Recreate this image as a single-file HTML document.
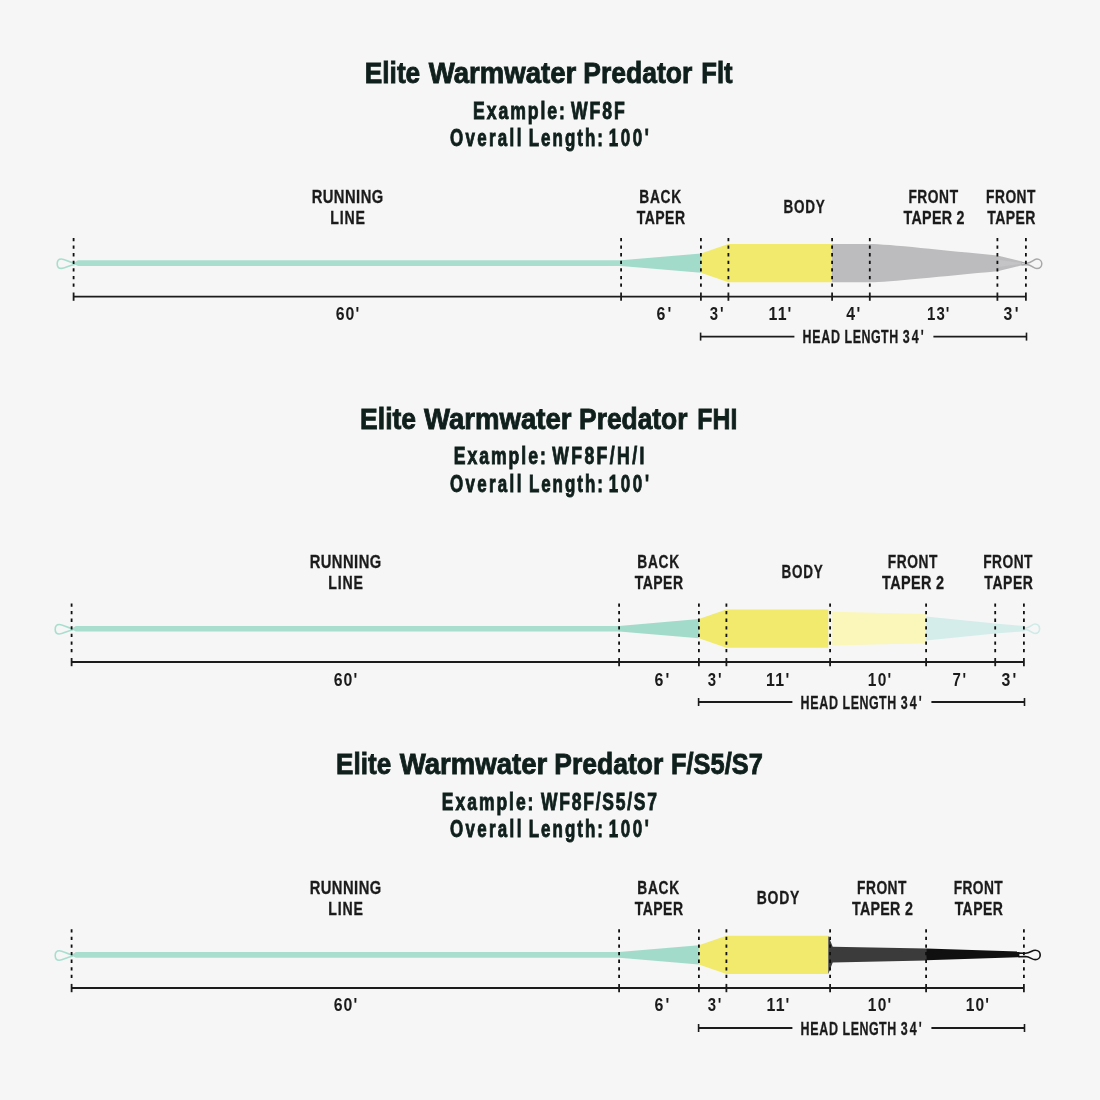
<!DOCTYPE html>
<html lang="en">
<head>
<meta charset="utf-8">
<title>Elite Warmwater Predator taper diagrams</title>
<style>
html,body{margin:0;padding:0;background:#f6f6f6;}
body{width:1100px;height:1100px;overflow:hidden;}
svg{display:block;}
svg text{font-family:"Liberation Sans",sans-serif;}
</style>
</head>
<body>
<svg width="1100" height="1100" viewBox="0 0 1100 1100">
<rect width="1100" height="1100" fill="#f6f6f6"/>
<text transform="translate(0 83.2) scale(0.878 1)" font-size="29.0" font-weight="bold" fill="#0f1f1c" stroke="#0f1f1c" stroke-width="0.85"><tspan x="415.53" textLength="63.08" lengthAdjust="spacingAndGlyphs">Elite</tspan> <tspan x="488.37" textLength="167.91" lengthAdjust="spacingAndGlyphs">Warmwater</tspan> <tspan x="664.39" textLength="123.99" lengthAdjust="spacingAndGlyphs">Predator</tspan> <tspan x="798.77" textLength="35.60" lengthAdjust="spacingAndGlyphs">Flt</tspan></text>
<text transform="translate(0 118.5) scale(0.747 1)" font-size="23.6" font-weight="bold" fill="#0f1f1c" stroke="#0f1f1c" stroke-width="0.9"><tspan x="633.22" textLength="122.93" lengthAdjust="spacing">Example:</tspan> <tspan x="764.41" textLength="71.97" lengthAdjust="spacing">WF8F</tspan></text>
<text transform="translate(0 146.0) scale(0.717 1)" font-size="23.6" font-weight="bold" fill="#0f1f1c" stroke="#0f1f1c" stroke-width="0.9"><tspan x="627.46" textLength="99.69" lengthAdjust="spacing">Overall</tspan> <tspan x="737.49" textLength="103.37" lengthAdjust="spacing">Length:</tspan> <tspan x="849.09" textLength="55.77" lengthAdjust="spacing">100'</tspan></text>
<path d="M73.1,263.4 L77.8,260.3 L622.1,260.3 L622.1,265.9 L77.8,265.9Z" fill="#a9decf"/>
<path d="M75.1,263.2 C68.6,262.1 65.1,259.0 61.3,259.0 C58.4,259.0 57.2,261.3 57.2,263.7 C57.2,266.1 58.4,268.4 61.3,268.4 C65.1,268.4 68.6,265.3 75.1,264.2" fill="none" stroke="#a9decf" stroke-width="1.6" stroke-linejoin="round"/>
<path d="M621.1,260.3 L700.9,253.5 L700.9,272.7 L621.1,265.9Z" fill="#a3dbcb"/>
<path d="M700.9,253.5 L728.4,244.0 L831.9,244.0 L831.9,282.2 L728.4,282.2 L700.9,272.7Z" fill="#f1ea6c"/>
<line x1="73.6" y1="296.6" x2="1025.9" y2="296.6" stroke="#1b1b1b" stroke-width="1.9"/>
<line x1="700.6" y1="332.6" x2="700.6" y2="340.6" stroke="#1b1b1b" stroke-width="1.6"/>
<line x1="700.6" y1="336.6" x2="794.4" y2="336.6" stroke="#1b1b1b" stroke-width="1.8"/>
<line x1="933.4" y1="336.6" x2="1026.5" y2="336.6" stroke="#1b1b1b" stroke-width="1.8"/>
<line x1="1026.5" y1="332.6" x2="1026.5" y2="340.6" stroke="#1b1b1b" stroke-width="1.6"/>
<text transform="translate(0 343.1) scale(0.663 1)" font-size="18.8" font-weight="bold" fill="#1b1b1b" stroke="#1b1b1b" stroke-width="0.3"><tspan x="1210.47" textLength="56.35" lengthAdjust="spacing">HEAD</tspan> <tspan x="1273.85" textLength="80.84" lengthAdjust="spacing">LENGTH</tspan> <tspan x="1361.62" textLength="31.47" lengthAdjust="spacing">34'</tspan></text>
<text transform="translate(311.69 203.0) scale(0.805 1)" font-size="18.3" font-weight="bold" fill="#1b1b1b" stroke="#1b1b1b" stroke-width="0.3" textLength="88.83" lengthAdjust="spacing">RUNNING</text>
<text transform="translate(330.36 224.0) scale(0.774 1)" font-size="18.3" font-weight="bold" fill="#1b1b1b" stroke="#1b1b1b" stroke-width="0.3" textLength="44.63" lengthAdjust="spacing">LINE</text>
<text transform="translate(639.36 203.0) scale(0.751 1)" font-size="18.3" font-weight="bold" fill="#1b1b1b" stroke="#1b1b1b" stroke-width="0.3" textLength="55.65" lengthAdjust="spacing">BACK</text>
<text transform="translate(636.73 224.0) scale(0.767 1)" font-size="18.3" font-weight="bold" fill="#1b1b1b" stroke="#1b1b1b" stroke-width="0.3" textLength="63.02" lengthAdjust="spacing">TAPER</text>
<text transform="translate(335.63 320.0) scale(0.871 1)" font-size="18.2" font-weight="bold" fill="#1b1b1b" textLength="27.05" lengthAdjust="spacing">60'</text>
<text transform="translate(656.56 320.0) scale(0.878 1)" font-size="18.2" font-weight="bold" fill="#1b1b1b" textLength="16.71" lengthAdjust="spacing">6'</text>
<text transform="translate(709.67 320.0) scale(0.822 1)" font-size="18.2" font-weight="bold" fill="#1b1b1b" textLength="16.90" lengthAdjust="spacing">3'</text>
<text transform="translate(768.60 320.0) scale(0.874 1)" font-size="18.2" font-weight="bold" fill="#1b1b1b" textLength="26.02" lengthAdjust="spacing">11'</text>
<path d="M831.9,244.0 L869.8,244.0 C888,244.0 945,250.7 997.5,255.4 L1022.2,261.4 L1022.2,265.2 L997.5,271.2 C945,275.9 888,282.2 869.8,282.2 L831.9,282.2Z" fill="#bcbcbe"/>
<path d="M998.5,259.7 L1021,262.9 L1021,263.7 L998.5,266.9Z" fill="#c4c4c6"/>
<path d="M1021.5,262.5 L1027.0,263.2 C1031.9,262.7 1033.5,259.1 1036.8,259.1 C1039.9,259.1 1041.8,261.2 1041.8,263.8 C1041.8,266.4 1039.9,268.5 1036.8,268.5 C1033.5,268.5 1031.9,264.9 1027.0,264.4 L1021.5,265.1" fill="none" stroke="#a8a8aa" stroke-width="1.5" stroke-linejoin="round"/>
<line x1="73.6" y1="237.9" x2="73.6" y2="288.0" stroke="#101010" stroke-width="1.8" stroke-dasharray="3.3 4.3"/>
<line x1="73.6" y1="292.5" x2="73.6" y2="300.8" stroke="#1b1b1b" stroke-width="1.8"/>
<line x1="621.1" y1="237.9" x2="621.1" y2="288.0" stroke="#101010" stroke-width="1.8" stroke-dasharray="3.3 4.3"/>
<line x1="621.1" y1="292.5" x2="621.1" y2="300.8" stroke="#1b1b1b" stroke-width="1.8"/>
<line x1="700.9" y1="237.9" x2="700.9" y2="288.0" stroke="#101010" stroke-width="1.8" stroke-dasharray="3.3 4.3"/>
<line x1="700.9" y1="292.5" x2="700.9" y2="300.8" stroke="#1b1b1b" stroke-width="1.8"/>
<line x1="728.4" y1="237.9" x2="728.4" y2="288.0" stroke="#101010" stroke-width="1.8" stroke-dasharray="3.3 4.3"/>
<line x1="728.4" y1="292.5" x2="728.4" y2="300.8" stroke="#1b1b1b" stroke-width="1.8"/>
<line x1="832.1" y1="237.9" x2="832.1" y2="288.0" stroke="#101010" stroke-width="1.8" stroke-dasharray="3.3 4.3"/>
<line x1="832.1" y1="292.5" x2="832.1" y2="300.8" stroke="#1b1b1b" stroke-width="1.8"/>
<line x1="869.8" y1="237.9" x2="869.8" y2="288.0" stroke="#101010" stroke-width="1.8" stroke-dasharray="3.3 4.3"/>
<line x1="869.8" y1="292.5" x2="869.8" y2="300.8" stroke="#1b1b1b" stroke-width="1.8"/>
<line x1="997.4" y1="237.9" x2="997.4" y2="288.0" stroke="#101010" stroke-width="1.8" stroke-dasharray="3.3 4.3"/>
<line x1="997.4" y1="292.5" x2="997.4" y2="300.8" stroke="#1b1b1b" stroke-width="1.8"/>
<line x1="1025.9" y1="237.9" x2="1025.9" y2="288.0" stroke="#101010" stroke-width="1.8" stroke-dasharray="3.3 4.3"/>
<line x1="1025.9" y1="292.5" x2="1025.9" y2="300.8" stroke="#1b1b1b" stroke-width="1.8"/>
<text transform="translate(783.61 213.4) scale(0.736 1)" font-size="18.3" font-weight="bold" fill="#1b1b1b" stroke="#1b1b1b" stroke-width="0.3" textLength="55.82" lengthAdjust="spacing">BODY</text>
<text transform="translate(908.38 203.0) scale(0.753 1)" font-size="18.3" font-weight="bold" fill="#1b1b1b" stroke="#1b1b1b" stroke-width="0.3" textLength="65.97" lengthAdjust="spacing">FRONT</text>
<text transform="translate(903.53 224.0) scale(0.780 1)" font-size="18.3" font-weight="bold" fill="#1b1b1b" stroke="#1b1b1b" stroke-width="0.3" textLength="78.23" lengthAdjust="spacing">TAPER 2</text>
<text transform="translate(986.05 203.0) scale(0.753 1)" font-size="18.3" font-weight="bold" fill="#1b1b1b" stroke="#1b1b1b" stroke-width="0.3" textLength="65.63" lengthAdjust="spacing">FRONT</text>
<text transform="translate(987.35 224.0) scale(0.766 1)" font-size="18.3" font-weight="bold" fill="#1b1b1b" stroke="#1b1b1b" stroke-width="0.3" textLength="62.81" lengthAdjust="spacing">TAPER</text>
<text transform="translate(846.36 320.0) scale(0.871 1)" font-size="18.2" font-weight="bold" fill="#1b1b1b" textLength="15.92" lengthAdjust="spacing">4'</text>
<text transform="translate(927.11 320.0) scale(0.822 1)" font-size="18.2" font-weight="bold" fill="#1b1b1b" textLength="26.97" lengthAdjust="spacing">13'</text>
<text transform="translate(1003.41 320.0) scale(0.871 1)" font-size="18.2" font-weight="bold" fill="#1b1b1b" textLength="17.36" lengthAdjust="spacing">3'</text>
<text transform="translate(0 428.8) scale(0.871 1)" font-size="29.0" font-weight="bold" fill="#0f1f1c" stroke="#0f1f1c" stroke-width="0.85"><tspan x="413.42" textLength="64.27" lengthAdjust="spacingAndGlyphs">Elite</tspan> <tspan x="486.70" textLength="169.54" lengthAdjust="spacingAndGlyphs">Warmwater</tspan> <tspan x="664.81" textLength="124.46" lengthAdjust="spacingAndGlyphs">Predator</tspan> <tspan x="800.65" textLength="45.88" lengthAdjust="spacingAndGlyphs">FHI</tspan></text>
<text transform="translate(0 464.0) scale(0.746 1)" font-size="23.6" font-weight="bold" fill="#0f1f1c" stroke="#0f1f1c" stroke-width="0.9"><tspan x="608.38" textLength="123.19" lengthAdjust="spacing">Example:</tspan> <tspan x="740.26" textLength="123.47" lengthAdjust="spacing">WF8F/H/I</tspan></text>
<text transform="translate(0 491.5) scale(0.717 1)" font-size="23.6" font-weight="bold" fill="#0f1f1c" stroke="#0f1f1c" stroke-width="0.9"><tspan x="627.46" textLength="99.69" lengthAdjust="spacing">Overall</tspan> <tspan x="737.64" textLength="103.21" lengthAdjust="spacing">Length:</tspan> <tspan x="849.02" textLength="56.09" lengthAdjust="spacing">100'</tspan></text>
<path d="M71.1,628.9 L75.8,625.9 L620.1,625.9 L620.1,631.4 L75.8,631.4Z" fill="#a9decf"/>
<path d="M73.1,628.8 C66.6,627.6 63.1,624.5 59.3,624.5 C56.4,624.5 55.2,626.9 55.2,629.2 C55.2,631.6 56.4,634.0 59.3,634.0 C63.1,634.0 66.6,630.9 73.1,629.8" fill="none" stroke="#a9decf" stroke-width="1.6" stroke-linejoin="round"/>
<path d="M619.1,625.9 L698.9,619.0 L698.9,638.2 L619.1,631.4Z" fill="#a3dbcb"/>
<path d="M698.9,619.0 L726.4,609.5 L828.3,609.5 L828.3,647.8 L726.4,647.8 L698.9,638.2Z" fill="#f1ea6c"/>
<line x1="71.6" y1="662.0" x2="1023.9" y2="662.0" stroke="#1b1b1b" stroke-width="1.9"/>
<line x1="698.6" y1="698.0" x2="698.6" y2="706.0" stroke="#1b1b1b" stroke-width="1.6"/>
<line x1="698.6" y1="702.0" x2="792.4" y2="702.0" stroke="#1b1b1b" stroke-width="1.8"/>
<line x1="931.4" y1="702.0" x2="1024.5" y2="702.0" stroke="#1b1b1b" stroke-width="1.8"/>
<line x1="1024.5" y1="698.0" x2="1024.5" y2="706.0" stroke="#1b1b1b" stroke-width="1.6"/>
<text transform="translate(0 708.5) scale(0.663 1)" font-size="18.8" font-weight="bold" fill="#1b1b1b" stroke="#1b1b1b" stroke-width="0.3"><tspan x="1207.46" textLength="56.35" lengthAdjust="spacing">HEAD</tspan> <tspan x="1270.83" textLength="80.84" lengthAdjust="spacing">LENGTH</tspan> <tspan x="1358.60" textLength="31.47" lengthAdjust="spacing">34'</tspan></text>
<text transform="translate(309.69 568.0) scale(0.805 1)" font-size="18.3" font-weight="bold" fill="#1b1b1b" stroke="#1b1b1b" stroke-width="0.3" textLength="88.83" lengthAdjust="spacing">RUNNING</text>
<text transform="translate(328.36 589.0) scale(0.774 1)" font-size="18.3" font-weight="bold" fill="#1b1b1b" stroke="#1b1b1b" stroke-width="0.3" textLength="44.63" lengthAdjust="spacing">LINE</text>
<text transform="translate(637.36 568.0) scale(0.751 1)" font-size="18.3" font-weight="bold" fill="#1b1b1b" stroke="#1b1b1b" stroke-width="0.3" textLength="55.65" lengthAdjust="spacing">BACK</text>
<text transform="translate(634.73 589.0) scale(0.767 1)" font-size="18.3" font-weight="bold" fill="#1b1b1b" stroke="#1b1b1b" stroke-width="0.3" textLength="63.02" lengthAdjust="spacing">TAPER</text>
<text transform="translate(333.63 685.5) scale(0.871 1)" font-size="18.2" font-weight="bold" fill="#1b1b1b" textLength="27.05" lengthAdjust="spacing">60'</text>
<text transform="translate(654.56 685.5) scale(0.878 1)" font-size="18.2" font-weight="bold" fill="#1b1b1b" textLength="16.71" lengthAdjust="spacing">6'</text>
<text transform="translate(707.67 685.5) scale(0.822 1)" font-size="18.2" font-weight="bold" fill="#1b1b1b" textLength="16.90" lengthAdjust="spacing">3'</text>
<text transform="translate(766.07 685.5) scale(0.874 1)" font-size="18.2" font-weight="bold" fill="#1b1b1b" textLength="26.62" lengthAdjust="spacing">11'</text>
<path d="M832.3,611.8 L926.1,614.0 L926.1,643.2 L832.3,645.5Z" fill="#fbf6ba"/>
<path d="M926.1,616.6 L995.2,623.6 L1024.5,626.0 L1024.5,631.2 L995.2,633.6 L926.1,640.6Z" fill="#d4edea"/>
<path d="M1023.0,627.8 L1026.0,628.0 C1030.5,627.5 1032.0,624.0 1035.0,624.0 C1037.8,624.0 1039.6,626.1 1039.6,628.8 C1039.6,631.4 1037.8,633.5 1035.0,633.5 C1032.0,633.5 1030.5,630.0 1026.0,629.5 L1023.0,629.8" fill="none" stroke="#cfebe7" stroke-width="1.7" stroke-linejoin="round"/>
<line x1="71.6" y1="603.4" x2="71.6" y2="653.5" stroke="#101010" stroke-width="1.8" stroke-dasharray="3.3 4.3"/>
<line x1="71.6" y1="658.0" x2="71.6" y2="666.2" stroke="#1b1b1b" stroke-width="1.8"/>
<line x1="619.1" y1="603.4" x2="619.1" y2="653.5" stroke="#101010" stroke-width="1.8" stroke-dasharray="3.3 4.3"/>
<line x1="619.1" y1="658.0" x2="619.1" y2="666.2" stroke="#1b1b1b" stroke-width="1.8"/>
<line x1="698.9" y1="603.4" x2="698.9" y2="653.5" stroke="#101010" stroke-width="1.8" stroke-dasharray="3.3 4.3"/>
<line x1="698.9" y1="658.0" x2="698.9" y2="666.2" stroke="#1b1b1b" stroke-width="1.8"/>
<line x1="726.4" y1="603.4" x2="726.4" y2="653.5" stroke="#101010" stroke-width="1.8" stroke-dasharray="3.3 4.3"/>
<line x1="726.4" y1="658.0" x2="726.4" y2="666.2" stroke="#1b1b1b" stroke-width="1.8"/>
<line x1="830.1" y1="603.4" x2="830.1" y2="653.5" stroke="#101010" stroke-width="1.8" stroke-dasharray="3.3 4.3"/>
<line x1="830.1" y1="658.0" x2="830.1" y2="666.2" stroke="#1b1b1b" stroke-width="1.8"/>
<line x1="926.1" y1="603.4" x2="926.1" y2="653.5" stroke="#101010" stroke-width="1.8" stroke-dasharray="3.3 4.3"/>
<line x1="926.1" y1="658.0" x2="926.1" y2="666.2" stroke="#1b1b1b" stroke-width="1.8"/>
<line x1="995.2" y1="603.4" x2="995.2" y2="653.5" stroke="#101010" stroke-width="1.8" stroke-dasharray="3.3 4.3"/>
<line x1="995.2" y1="658.0" x2="995.2" y2="666.2" stroke="#1b1b1b" stroke-width="1.8"/>
<line x1="1023.9" y1="603.4" x2="1023.9" y2="653.5" stroke="#101010" stroke-width="1.8" stroke-dasharray="3.3 4.3"/>
<line x1="1023.9" y1="658.0" x2="1023.9" y2="666.2" stroke="#1b1b1b" stroke-width="1.8"/>
<text transform="translate(781.61 578.4) scale(0.736 1)" font-size="18.3" font-weight="bold" fill="#1b1b1b" stroke="#1b1b1b" stroke-width="0.3" textLength="55.82" lengthAdjust="spacing">BODY</text>
<text transform="translate(887.80 568.0) scale(0.751 1)" font-size="18.3" font-weight="bold" fill="#1b1b1b" stroke="#1b1b1b" stroke-width="0.3" textLength="65.94" lengthAdjust="spacing">FRONT</text>
<text transform="translate(882.10 589.0) scale(0.790 1)" font-size="18.3" font-weight="bold" fill="#1b1b1b" stroke="#1b1b1b" stroke-width="0.3" textLength="78.57" lengthAdjust="spacing">TAPER 2</text>
<text transform="translate(983.14 568.0) scale(0.753 1)" font-size="18.3" font-weight="bold" fill="#1b1b1b" stroke="#1b1b1b" stroke-width="0.3" textLength="65.60" lengthAdjust="spacing">FRONT</text>
<text transform="translate(984.37 589.0) scale(0.766 1)" font-size="18.3" font-weight="bold" fill="#1b1b1b" stroke="#1b1b1b" stroke-width="0.3" textLength="63.40" lengthAdjust="spacing">TAPER</text>
<text transform="translate(867.86 685.5) scale(0.851 1)" font-size="18.2" font-weight="bold" fill="#1b1b1b" textLength="27.43" lengthAdjust="spacing">10'</text>
<text transform="translate(952.43 685.5) scale(0.822 1)" font-size="18.2" font-weight="bold" fill="#1b1b1b" textLength="16.74" lengthAdjust="spacing">7'</text>
<text transform="translate(1001.61 685.5) scale(0.871 1)" font-size="18.2" font-weight="bold" fill="#1b1b1b" textLength="16.74" lengthAdjust="spacing">3'</text>
<text transform="translate(0 774.2) scale(0.885 1)" font-size="29.0" font-weight="bold" fill="#0f1f1c" stroke="#0f1f1c" stroke-width="0.85"><tspan x="379.79" textLength="62.20" lengthAdjust="spacingAndGlyphs">Elite</tspan> <tspan x="451.59" textLength="166.80" lengthAdjust="spacingAndGlyphs">Warmwater</tspan> <tspan x="626.33" textLength="123.10" lengthAdjust="spacingAndGlyphs">Predator</tspan> <tspan x="758.27" textLength="103.62" lengthAdjust="spacingAndGlyphs">F/S5/S7</tspan></text>
<text transform="translate(0 809.5) scale(0.741 1)" font-size="23.6" font-weight="bold" fill="#0f1f1c" stroke="#0f1f1c" stroke-width="0.9"><tspan x="596.31" textLength="123.58" lengthAdjust="spacing">Example:</tspan> <tspan x="729.99" textLength="156.71" lengthAdjust="spacing">WF8F/S5/S7</tspan></text>
<text transform="translate(0 837.0) scale(0.717 1)" font-size="23.6" font-weight="bold" fill="#0f1f1c" stroke="#0f1f1c" stroke-width="0.9"><tspan x="627.46" textLength="99.69" lengthAdjust="spacing">Overall</tspan> <tspan x="737.49" textLength="103.37" lengthAdjust="spacing">Length:</tspan> <tspan x="849.09" textLength="55.77" lengthAdjust="spacing">100'</tspan></text>
<path d="M71.1,955.2 L75.8,952.1 L620.1,952.1 L620.1,957.7 L75.8,957.7Z" fill="#a9decf"/>
<path d="M73.1,955.0 C66.6,953.9 63.1,950.8 59.3,950.8 C56.4,950.8 55.2,953.1 55.2,955.5 C55.2,957.9 56.4,960.2 59.3,960.2 C63.1,960.2 66.6,957.1 73.1,956.0" fill="none" stroke="#a9decf" stroke-width="1.6" stroke-linejoin="round"/>
<path d="M619.1,952.1 L698.9,945.3 L698.9,964.5 L619.1,957.7Z" fill="#a3dbcb"/>
<path d="M698.9,945.3 L726.4,935.8 L828.4,935.8 L828.4,974.0 L726.4,974.0 L698.9,964.5Z" fill="#f1ea6c"/>
<line x1="71.6" y1="988.0" x2="1023.9" y2="988.0" stroke="#1b1b1b" stroke-width="1.9"/>
<line x1="698.6" y1="1024.0" x2="698.6" y2="1032.0" stroke="#1b1b1b" stroke-width="1.6"/>
<line x1="698.6" y1="1028.0" x2="792.4" y2="1028.0" stroke="#1b1b1b" stroke-width="1.8"/>
<line x1="931.4" y1="1028.0" x2="1024.5" y2="1028.0" stroke="#1b1b1b" stroke-width="1.8"/>
<line x1="1024.5" y1="1024.0" x2="1024.5" y2="1032.0" stroke="#1b1b1b" stroke-width="1.6"/>
<text transform="translate(0 1034.5) scale(0.663 1)" font-size="18.8" font-weight="bold" fill="#1b1b1b" stroke="#1b1b1b" stroke-width="0.3"><tspan x="1207.46" textLength="56.35" lengthAdjust="spacing">HEAD</tspan> <tspan x="1270.83" textLength="80.84" lengthAdjust="spacing">LENGTH</tspan> <tspan x="1358.60" textLength="31.47" lengthAdjust="spacing">34'</tspan></text>
<text transform="translate(309.69 894.0) scale(0.805 1)" font-size="18.3" font-weight="bold" fill="#1b1b1b" stroke="#1b1b1b" stroke-width="0.3" textLength="88.83" lengthAdjust="spacing">RUNNING</text>
<text transform="translate(328.36 915.0) scale(0.774 1)" font-size="18.3" font-weight="bold" fill="#1b1b1b" stroke="#1b1b1b" stroke-width="0.3" textLength="44.63" lengthAdjust="spacing">LINE</text>
<text transform="translate(637.36 894.0) scale(0.751 1)" font-size="18.3" font-weight="bold" fill="#1b1b1b" stroke="#1b1b1b" stroke-width="0.3" textLength="55.65" lengthAdjust="spacing">BACK</text>
<text transform="translate(634.73 915.0) scale(0.767 1)" font-size="18.3" font-weight="bold" fill="#1b1b1b" stroke="#1b1b1b" stroke-width="0.3" textLength="63.02" lengthAdjust="spacing">TAPER</text>
<text transform="translate(333.63 1011.4) scale(0.871 1)" font-size="18.2" font-weight="bold" fill="#1b1b1b" textLength="27.05" lengthAdjust="spacing">60'</text>
<text transform="translate(654.56 1011.4) scale(0.878 1)" font-size="18.2" font-weight="bold" fill="#1b1b1b" textLength="16.91" lengthAdjust="spacing">6'</text>
<text transform="translate(707.67 1011.4) scale(0.822 1)" font-size="18.2" font-weight="bold" fill="#1b1b1b" textLength="16.49" lengthAdjust="spacing">3'</text>
<text transform="translate(766.60 1011.4) scale(0.874 1)" font-size="18.2" font-weight="bold" fill="#1b1b1b" textLength="26.09" lengthAdjust="spacing">11'</text>
<path d="M828.3,935.8 L832.7,946.8 L926.1,948.6 L926.1,960.5 L832.7,962.6 L828.3,974.0Z" fill="#3b3b3b"/>
<path d="M926.1,948.5 L1019.4,951.6 L1019.4,957.2 L926.1,960.3Z" fill="#101010"/>
<path d="M1018.5,953.1 L1025.5,953.3 C1030.4,952.8 1032.0,950.2 1035.2,950.2 C1038.3,950.2 1040.2,952.3 1040.2,954.9 C1040.2,957.5 1038.3,959.6 1035.2,959.6 C1032.0,959.6 1030.4,957.0 1025.5,956.5 L1018.5,956.7" fill="none" stroke="#101010" stroke-width="1.6" stroke-linejoin="round"/>
<line x1="71.6" y1="929.2" x2="71.6" y2="979.4" stroke="#101010" stroke-width="1.8" stroke-dasharray="3.3 4.3"/>
<line x1="71.6" y1="983.9" x2="71.6" y2="992.2" stroke="#1b1b1b" stroke-width="1.8"/>
<line x1="619.1" y1="929.2" x2="619.1" y2="979.4" stroke="#101010" stroke-width="1.8" stroke-dasharray="3.3 4.3"/>
<line x1="619.1" y1="983.9" x2="619.1" y2="992.2" stroke="#1b1b1b" stroke-width="1.8"/>
<line x1="698.9" y1="929.2" x2="698.9" y2="979.4" stroke="#101010" stroke-width="1.8" stroke-dasharray="3.3 4.3"/>
<line x1="698.9" y1="983.9" x2="698.9" y2="992.2" stroke="#1b1b1b" stroke-width="1.8"/>
<line x1="726.4" y1="929.2" x2="726.4" y2="979.4" stroke="#101010" stroke-width="1.8" stroke-dasharray="3.3 4.3"/>
<line x1="726.4" y1="983.9" x2="726.4" y2="992.2" stroke="#1b1b1b" stroke-width="1.8"/>
<line x1="830.1" y1="929.2" x2="830.1" y2="979.4" stroke="#101010" stroke-width="1.8" stroke-dasharray="3.3 4.3"/>
<line x1="830.1" y1="983.9" x2="830.1" y2="992.2" stroke="#1b1b1b" stroke-width="1.8"/>
<line x1="926.1" y1="929.2" x2="926.1" y2="979.4" stroke="#101010" stroke-width="1.8" stroke-dasharray="3.3 4.3"/>
<line x1="926.1" y1="983.9" x2="926.1" y2="992.2" stroke="#1b1b1b" stroke-width="1.8"/>
<line x1="1023.9" y1="929.2" x2="1023.9" y2="979.4" stroke="#101010" stroke-width="1.8" stroke-dasharray="3.3 4.3"/>
<line x1="1023.9" y1="983.9" x2="1023.9" y2="992.2" stroke="#1b1b1b" stroke-width="1.8"/>
<text transform="translate(756.69 904.4) scale(0.762 1)" font-size="18.3" font-weight="bold" fill="#1b1b1b" stroke="#1b1b1b" stroke-width="0.3" textLength="55.93" lengthAdjust="spacing">BODY</text>
<text transform="translate(857.05 894.0) scale(0.753 1)" font-size="18.3" font-weight="bold" fill="#1b1b1b" stroke="#1b1b1b" stroke-width="0.3" textLength="65.63" lengthAdjust="spacing">FRONT</text>
<text transform="translate(851.93 915.0) scale(0.780 1)" font-size="18.3" font-weight="bold" fill="#1b1b1b" stroke="#1b1b1b" stroke-width="0.3" textLength="78.21" lengthAdjust="spacing">TAPER 2</text>
<text transform="translate(953.66 894.0) scale(0.753 1)" font-size="18.3" font-weight="bold" fill="#1b1b1b" stroke="#1b1b1b" stroke-width="0.3" textLength="65.18" lengthAdjust="spacing">FRONT</text>
<text transform="translate(954.63 915.0) scale(0.766 1)" font-size="18.3" font-weight="bold" fill="#1b1b1b" stroke="#1b1b1b" stroke-width="0.3" textLength="63.11" lengthAdjust="spacing">TAPER</text>
<text transform="translate(867.85 1011.4) scale(0.851 1)" font-size="18.2" font-weight="bold" fill="#1b1b1b" textLength="27.44" lengthAdjust="spacing">10'</text>
<text transform="translate(965.81 1011.4) scale(0.855 1)" font-size="18.2" font-weight="bold" fill="#1b1b1b" textLength="27.11" lengthAdjust="spacing">10'</text>
</svg>
</body>
</html>
